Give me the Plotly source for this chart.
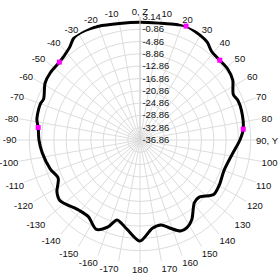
import plotly.graph_objects as go

# Pattern data (angle in degrees, gain in dB)
theta = [-180, -172, -164, -160, -154, -146, -139, -127, -122, -115, -108, -97.5, -90,
         -83, -79, -76, -70, -67, -59, -53, -46, -42, -37, -33, -28, -20, -10,
         0, 10, 15, 22, 29, 34.5, 39, 45, 51, 57, 64, 68, 74, 84, 90, 98, 110,
         119.5, 126.5, 134, 139, 147, 152, 156, 161, 166, 172, 180]
gain = [-4.0, -7.4, -9.8, -6.9, -4.5, -6.8, -6.6, -4.2, -5.0, -7.5, -6.2, -4.8, -4.0,
        -3.5, -2.7, -2.5, -2.4, -2.8, -0.86, -0.4, -0.4, 0.0, 1.05, 2.7, 3.0, 2.5, 1.6,
        1.4, 1.7, 2.2, 3.1, 2.5, 1.73, 0.17, -0.17, -0.17, -0.92, -3.1, -2.5, -2.5, -3.1, -4.36, -6.36, -7.8,
        -7.2, -7.05, -10.1, -9.9, -5.95, -4.5, -4.45, -6.5, -8.4, -7.9, -4.0]

marker_theta = [22, 45, 84, -46, -83]
marker_gain = [3.1, -0.17, -3.1, -0.4, -3.5]

radial_ticks = [3.14, -0.86, -4.86, -8.86, -12.86, -16.86, -20.86, -24.86, -28.86, -32.86, -36.86]
radial_text = ["3.14", "-0.86", "-4.86", "-8.86", "-12.86", "-16.86", "-20.86", "-24.86",
               "-28.86", "-32.86", "-36.86"]

ang_vals = list(range(0, 360, 10))
ang_text = []
for a in ang_vals:
    if a == 0:
        ang_text.append("0, Z")
    elif a == 90:
        ang_text.append("")  # drawn as annotation below so it fits inside the page
    elif a <= 180:
        ang_text.append(str(a))
    else:
        ang_text.append(str(a - 360))
label_90 = "90, Y"

FONT = "Liberation Sans, Arial, sans-serif"

fig = go.Figure()
fig.add_trace(go.Scatterpolar(
    r=gain, theta=theta, mode="lines",
    line=dict(color="black", width=3, shape="spline", smoothing=0.8),
    hoverinfo="skip", showlegend=False))
fig.add_trace(go.Scatterpolar(
    r=marker_gain, theta=marker_theta, mode="markers",
    marker=dict(color="#ff00ff", size=5, symbol="square"),
    showlegend=False))

fig.add_annotation(text=label_90, xref="paper", yref="paper",
                   x=1.018, y=0.5, xanchor="center", yanchor="middle",
                   showarrow=False, font=dict(family=FONT, size=9.5, color="#111"))

fig.update_layout(
    width=280, height=280,
    margin=dict(l=17, r=17, t=15, b=15),
    paper_bgcolor="white",
    font=dict(family=FONT, size=9.5, color="#111"),
    polar=dict(
        bgcolor="white",
        angularaxis=dict(rotation=90, direction="clockwise",
                         tickmode="array", tickvals=ang_vals, ticktext=ang_text,
                         ticks="", showline=False, gridcolor="#dddddd", gridwidth=1,
                         tickfont=dict(family=FONT, size=9.5, color="#111")),
        radialaxis=dict(range=[-36.86, 3.14], angle=90, tickangle=90,
                        tickmode="array", tickvals=radial_ticks, ticktext=radial_text,
                        ticks="", showline=True, linecolor="#cccccc", linewidth=1,
                        gridcolor="#dddddd", gridwidth=1, side="clockwise",
                        tickfont=dict(family=FONT, size=9.5, color="#111")),
    ),
)

fig.write_html("out.html")
